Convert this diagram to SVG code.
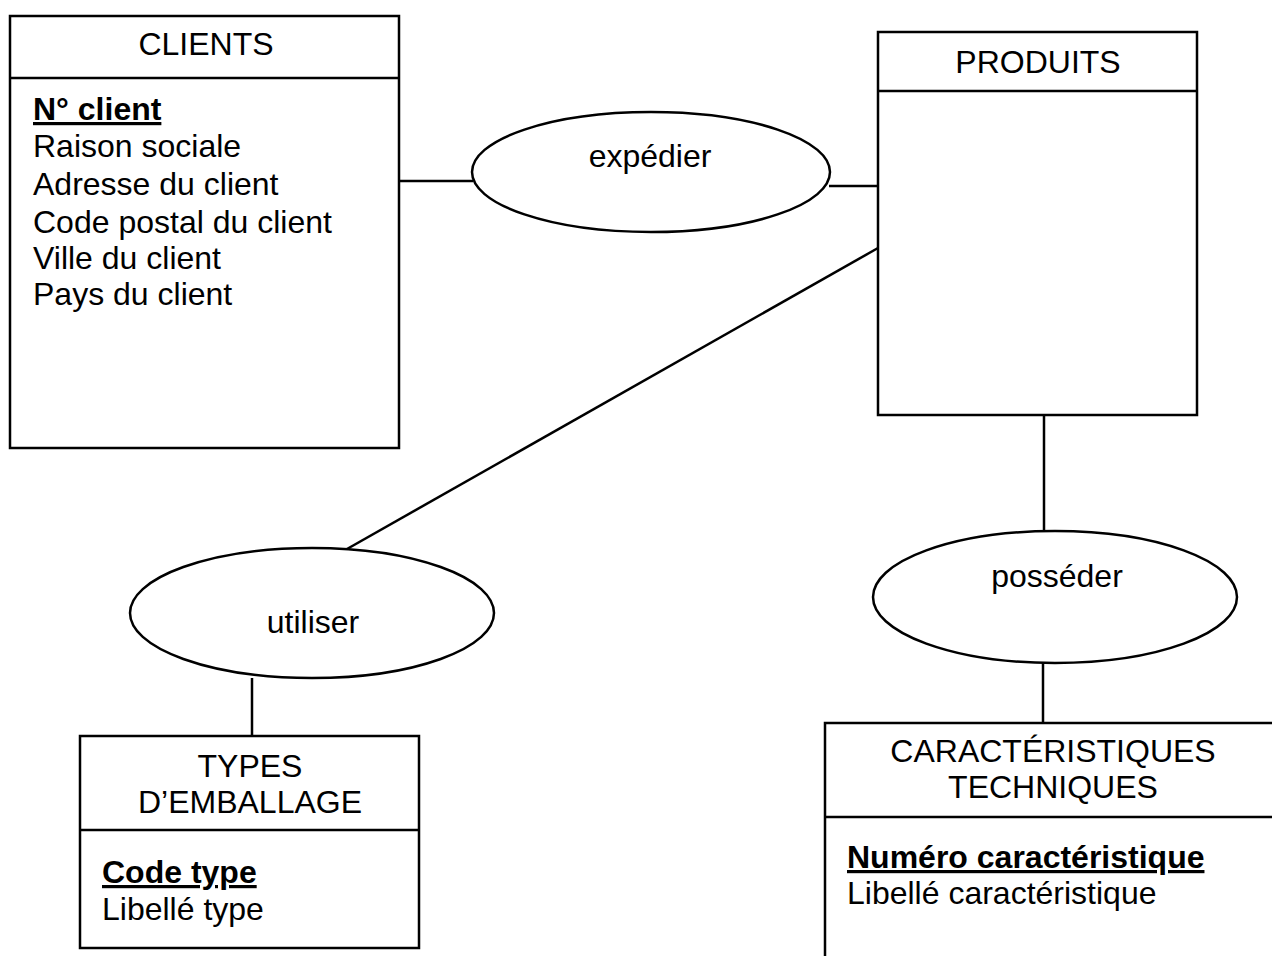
<svg xmlns="http://www.w3.org/2000/svg" width="1272" height="956" viewBox="0 0 1272 956">
<style>
.box{fill:none;stroke:#000;stroke-width:2.5}
.ln{stroke:#000;stroke-width:2.5;fill:none}
.ell{fill:#fff;stroke:#000;stroke-width:2.5}
text{font-family:"Liberation Sans",Arial,sans-serif;font-size:32px;fill:#000}
.c{text-anchor:middle}
.k{font-weight:bold;text-decoration:underline}
</style>
<rect width="1272" height="956" fill="#fff"/>
<g id="connectors">
<line class="ln" x1="400" y1="181" x2="473" y2="181"/>
<line class="ln" x1="829" y1="186" x2="878" y2="186"/>
<line class="ln" x1="878" y1="248" x2="347" y2="549"/>
<line class="ln" x1="252" y1="678" x2="252" y2="736"/>
<line class="ln" x1="1044" y1="415" x2="1044" y2="532"/>
<line class="ln" x1="1043" y1="663" x2="1043" y2="723"/>
</g>
<g id="clients">
<rect class="box" x="10" y="16" width="389" height="432"/>
<line class="ln" x1="10" y1="78" x2="399" y2="78"/>
<text class="c" x="206" y="55">CLIENTS</text>
<text class="k" x="33" y="120">N° client</text>
<text x="33" y="157">Raison sociale</text>
<text x="33" y="195">Adresse du client</text>
<text x="33" y="233">Code postal du client</text>
<text x="33" y="269">Ville du client</text>
<text x="33" y="305">Pays du client</text>
</g>
<g id="produits">
<rect class="box" x="878" y="32" width="319" height="383"/>
<line class="ln" x1="878" y1="91" x2="1197" y2="91"/>
<text class="c" x="1038" y="73">PRODUITS</text>
</g>
<g id="expedier">
<ellipse class="ell" cx="651" cy="172" rx="179" ry="60"/>
<text class="c" x="650" y="167">expédier</text>
</g>
<g id="utiliser">
<ellipse class="ell" cx="312" cy="613" rx="182" ry="65"/>
<text class="c" x="313" y="633">utiliser</text>
</g>
<g id="posseder">
<ellipse class="ell" cx="1055" cy="597" rx="182" ry="66"/>
<text class="c" x="1057" y="587">posséder</text>
</g>
<g id="types">
<rect class="box" x="80" y="736" width="339" height="212"/>
<line class="ln" x1="80" y1="830" x2="419" y2="830"/>
<text class="c" x="250" y="777">TYPES</text>
<text class="c" x="250" y="813">D’EMBALLAGE</text>
<text class="k" x="102" y="883">Code type</text>
<text x="102" y="920">Libellé type</text>
</g>
<g id="caracteristiques">
<path class="ln" d="M825 960 V723 H1275"/>
<line class="ln" x1="825" y1="817" x2="1275" y2="817"/>
<text class="c" x="1053" y="762">CARACTÉRISTIQUES</text>
<text class="c" x="1053" y="798">TECHNIQUES</text>
<text class="k" x="847" y="868">Numéro caractéristique</text>
<text x="847" y="904">Libellé caractéristique</text>
</g>
</svg>
